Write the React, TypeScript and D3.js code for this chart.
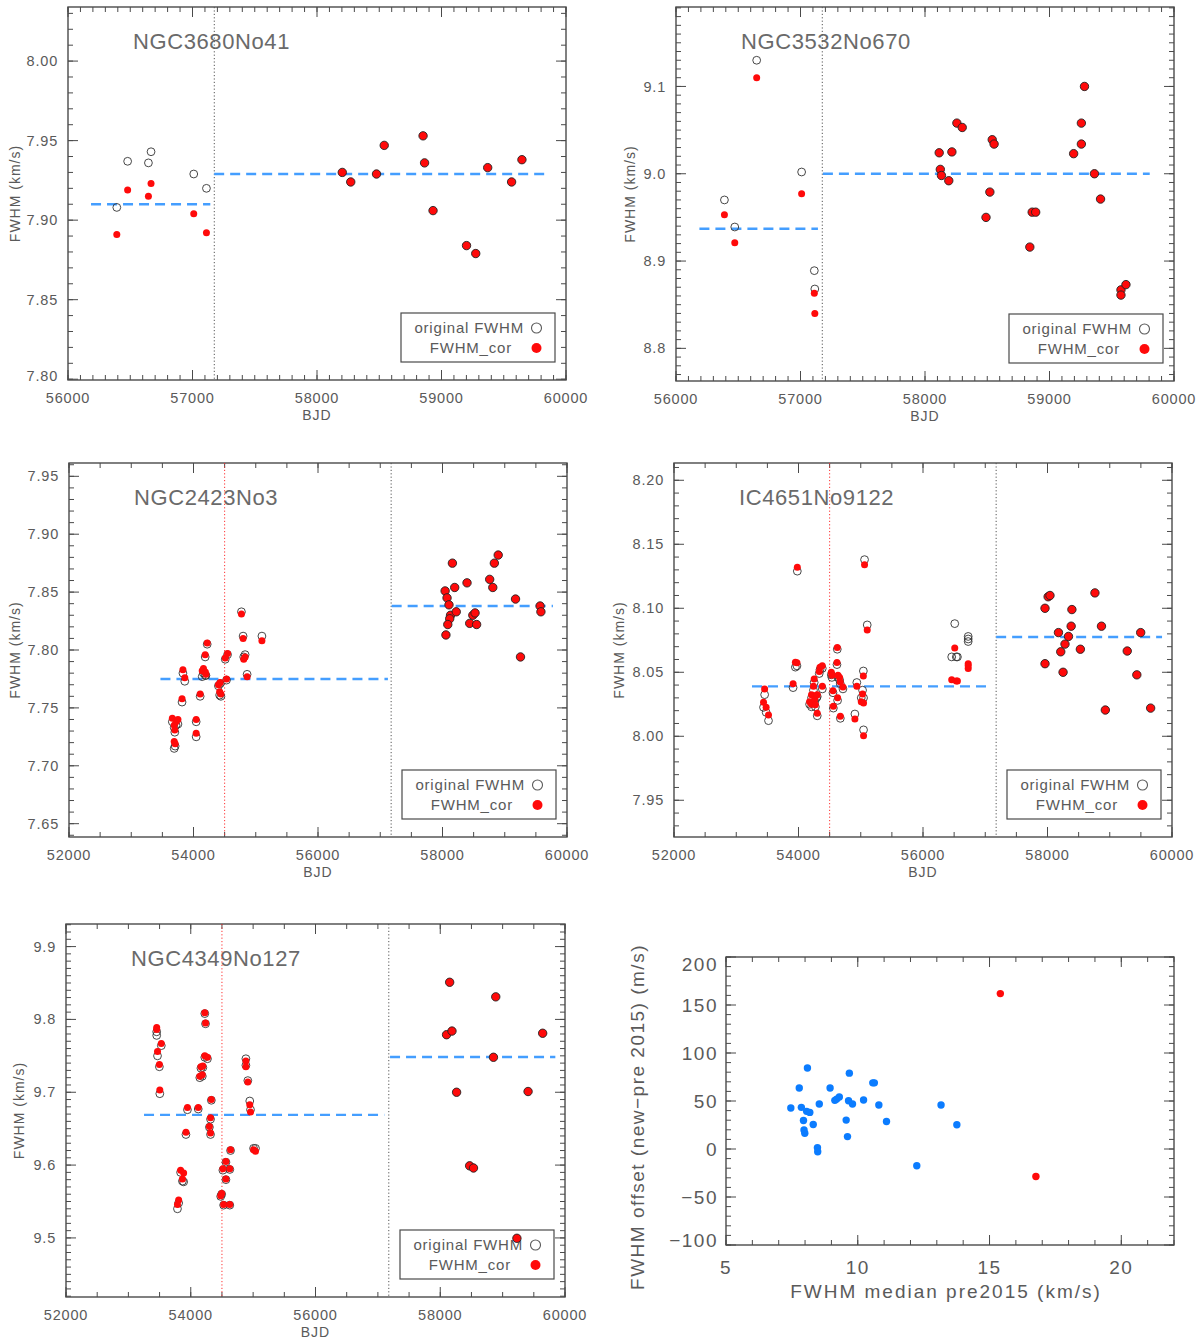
import * as d3 from "d3";

// ---------- data ----------

const SPLIT_BJD = 57175;
const RED_LINE_BJD = 54500;

// NGC3680No41
const p1PreBjd = [56392, 56479, 56646, 56667, 57010, 57112];
const p1PreOrig = [7.908, 7.937, 7.936, 7.943, 7.929, 7.92];
const p1PreCor = [7.891, 7.919, 7.915, 7.923, 7.904, 7.892];
const p1PostBjd = [58203, 58271, 58478, 58540, 58852, 58864, 58932, 59201, 59275, 59371, 59563, 59646];
const p1PostVal = [7.93, 7.924, 7.929, 7.947, 7.953, 7.936, 7.906, 7.884, 7.879, 7.933, 7.924, 7.938];
const p1Levels = [
  [56185, 57143, 7.91],
  [57174, 59847, 7.929],
];

// NGC3532No670
const p2PreBjd = [56389, 56472, 56648, 57009, 57111, 57115];
const p2PreOrig = [8.97, 8.939, 9.13, 9.002, 8.889, 8.868];
const p2PreCor = [8.953, 8.921, 9.11, 8.977, 8.863, 8.84];
const p2PostBjd = [
  58114, 58123, 58132, 58191, 58216, 58256, 58299, 58490, 58521, 58540, 58555, 58842, 58861, 58889,
  59194, 59256, 59256, 59281, 59361, 59410, 59574, 59574, 59614,
];
const p2PostVal = [
  9.024, 9.005, 8.998, 8.992, 9.025, 9.058, 9.053, 8.95, 8.979, 9.039, 9.034, 8.916, 8.956, 8.956,
  9.023, 9.058, 9.034, 9.1, 9.0, 8.971, 8.867, 8.861, 8.873,
];
const p2Levels = [
  [56188, 57140, 8.937],
  [57180, 59805, 9.0],
];

// NGC2423No3
const p3PreBjd = [
  53660, 53690, 53700, 53720, 53750, 53690, 53705, 53830, 53860, 53816, 54043, 54043, 54107, 54140,
  54160, 54190, 54200, 54188, 54220, 54400, 54430, 54440, 54420, 54530, 54510, 54547, 54770, 54797,
  54807, 54829, 54861, 55099,
];
const p3PreOrig = [
  7.738, 7.733, 7.729, 7.735, 7.736, 7.715, 7.717, 7.78, 7.773, 7.755, 7.738, 7.725, 7.76, 7.777,
  7.78, 7.778, 7.778, 7.794, 7.805, 7.769, 7.771, 7.76, 7.761, 7.774, 7.792, 7.796, 7.833, 7.812,
  7.794, 7.796, 7.779, 7.812,
];
const p3PreCor = [
  7.741, 7.735, 7.731, 7.738, 7.74, 7.721, 7.719, 7.783, 7.776, 7.758, 7.74, 7.728, 7.762, 7.782,
  7.784, 7.781, 7.779, 7.796, 7.806, 7.77, 7.772, 7.762, 7.764, 7.775, 7.793, 7.797, 7.831, 7.81,
  7.792, 7.794, 7.777, 7.808,
];
const p3PostBjd = [
  58042, 58073, 58104, 58129, 58116, 58085, 58055, 58159, 58196, 58221, 58394, 58437, 58487, 58523,
  58548, 58758, 58808, 58833, 58895, 59173, 59253, 59568, 59581,
];
const p3PostVal = [
  7.851, 7.845, 7.839, 7.83, 7.827, 7.822, 7.813, 7.875, 7.854, 7.833, 7.858, 7.823, 7.83, 7.832,
  7.822, 7.861, 7.854, 7.875, 7.882, 7.844, 7.794, 7.838, 7.833,
];
const p3Levels = [
  [53469, 57123, 7.775],
  [57183, 59774, 7.838],
];

// IC4651No9122
const p4PreBjd = [
  53456, 53438, 53480, 53518, 53913, 53950, 53975, 53981, 54178, 54209, 54209, 54240, 54252, 54260,
  54271, 54290, 54301, 54301, 54333, 54345, 54382, 54383, 54527, 54537, 54554, 54560, 54623, 54618,
  54628, 54634, 54660, 54671, 54672, 54714, 54906, 54937, 55008, 55029, 55045, 55042, 55045, 55061,
  55104, 56461, 56510, 56535, 56553, 56726, 56726, 56726,
];
const p4PreOrig = [
  8.0325, 8.0226, 8.0187, 8.0122, 8.038, 8.054, 8.055, 8.129, 8.025, 8.023, 8.03, 8.036, 8.042, 8.027,
  8.023, 8.03, 8.016, 8.031, 8.049, 8.052, 8.053, 8.037, 8.048, 8.046, 8.034, 8.022, 8.068, 8.056,
  8.028, 8.046, 8.044, 8.041, 8.014, 8.037, 8.0174, 8.042, 8.03, 8.036, 8.03, 8.051, 8.005, 8.138,
  8.087, 8.062, 8.088, 8.062, 8.062, 8.078, 8.076, 8.074,
];
const p4PreCor = [
  8.037, 8.0265, 8.0226, 8.0166, 8.041, 8.0578, 8.0575, 8.132, 8.027, 8.025, 8.0325, 8.039, 8.0447,
  8.029, 8.0247, 8.032, 8.018, 8.0325, 8.0507, 8.054, 8.055, 8.039, 8.05, 8.0476, 8.0356, 8.0234,
  8.0694, 8.0577, 8.03, 8.0476, 8.046, 8.0424, 8.0156, 8.0385, 8.0135, 8.039, 8.027, 8.033, 8.026,
  8.047, 8.0005, 8.134, 8.083, 8.0442, 8.069, 8.0432, 8.0432, 8.0567, 8.053, 8.055,
];
const p4PostBjd = [
  57960, 57960, 58010, 58040, 58176, 58213, 58250, 58281, 58337, 58380, 58392, 58528, 58762, 58867,
  58929, 59281, 59435, 59497, 59657,
];
const p4PostVal = [
  8.1, 8.0567, 8.109, 8.11, 8.081, 8.066, 8.05, 8.072, 8.078, 8.086, 8.099, 8.068, 8.112, 8.086,
  8.0205, 8.0666, 8.048, 8.081, 8.022,
];
const p4Levels = [
  [53253, 57108, 8.039],
  [57175, 59840, 8.0776],
];

// NGC4349No127
const p5PreBjd = [
  53454, 53454, 53467, 53528, 53497, 53504, 53837, 53886, 53867, 53806, 53787, 53947, 53923, 54120,
  54163, 54194, 54145, 54185, 54225, 54237, 54225, 54268, 54330, 54317, 54299, 54317, 54515, 54564,
  54564, 54626, 54638, 54496, 54480, 54527, 54626, 54884, 54884, 54915, 54946, 54958, 55007, 55038,
];
const p5PreOrig = [
  9.778, 9.783, 9.75, 9.764, 9.735, 9.698, 9.59, 9.577, 9.578, 9.548, 9.54, 9.676, 9.642, 9.677,
  9.733, 9.734, 9.72, 9.722, 9.808, 9.794, 9.748, 9.746, 9.689, 9.663, 9.652, 9.642, 9.593, 9.604,
  9.58, 9.594, 9.62, 9.56, 9.557, 9.545, 9.545, 9.746, 9.737, 9.716, 9.688, 9.676, 9.623, 9.623,
];
const p5PreCor = [
  9.789, 9.786, 9.756, 9.767, 9.738, 9.703, 9.593, 9.589, 9.581, 9.552, 9.546, 9.679, 9.645, 9.679,
  9.735, 9.736, 9.722, 9.724, 9.809, 9.795, 9.75, 9.748, 9.69, 9.665, 9.653, 9.644, 9.595, 9.605,
  9.581, 9.595, 9.621, 9.561, 9.558, 9.546, 9.546, 9.743, 9.735, 9.714, 9.683, 9.673, 9.621, 9.619,
];
const p5PostBjd = [58151, 58101, 58188, 58262, 58471, 58533, 58853, 58890, 59229, 59408, 59642];
const p5PostVal = [9.851, 9.779, 9.784, 9.7, 9.599, 9.596, 9.748, 9.831, 9.4995, 9.701, 9.781];
const p5Levels = [
  [53251, 57103, 9.669],
  [57195, 59845, 9.7485],
];

// offset vs median (bottom right)
const offMedianBlue = [
  7.46, 7.78, 7.86, 7.94, 7.96, 7.99, 8.09, 8.06, 8.18, 8.31, 8.47, 8.48, 8.54, 8.95, 9.13, 9.2, 9.3,
  9.56, 9.61, 9.65, 9.68, 9.8, 10.22, 10.57, 10.63, 10.8, 11.09, 12.24, 13.16, 13.76,
];
const offValueBlue = [
  42.7, 63.6, 43.4, 29.7, 19.9, 16.4, 84.3, 39.2, 38.1, 25.5, 1.4, -2.8, 46.9, 63.6, 50.7, 52.0, 54.2,
  30.1, 12.9, 50.3, 79.0, 46.9, 51.0, 68.9, 68.9, 45.8, 28.7, -17.5, 45.8, 25.2,
];
const offMedianRed = [15.41, 16.76];
const offValueRed = [161.9, -28.7];

// tick labels
const bjdTicksNarrow = [56000, 57000, 58000, 59000, 60000];
const bjdTicksWide = [52000, 54000, 56000, 58000, 60000];
const p1YTicks = [7.8, 7.85, 7.9, 7.95, 8.0];
const p2YTicks = [8.8, 8.9, 9.0, 9.1];
const p3YTicks = [7.65, 7.7, 7.75, 7.8, 7.85, 7.9, 7.95];
const p4YTicks = [7.95, 8.0, 8.05, 8.1, 8.15, 8.2];
const p5YTicks = [9.5, 9.6, 9.7, 9.8, 9.9];
const offXTicks = [5, 10, 15, 20];
const offYTicks = [-100, -50, 0, 50, 100, 150, 200];

// ---------- styling ----------

const FONT = "'Liberation Sans', Arial, Helvetica, sans-serif";
const INK = "#4a4a4a";
const TEXT = "#5a5a5a";
const RED = "#ff0a0a";
const LEVEL_BLUE = "#449eff";
const DOT_BLUE = "#0b7cff";

interface PanelSpec {
  title: string;
  left: number;
  top: number;
  width: number;
  height: number;
  xDomain: [number, number];
  yDomain: [number, number];
  xTicks: number[];
  xMinor: number;
  yTicks: number[];
  yMinor: number;
  yDigits: number;
  yTitleDx: number;
  preBjd: number[];
  preOrig: number[];
  preCor: number[];
  postBjd: number[];
  postVal: number[];
  levels: number[][];
  redLine: boolean;
}

const panels: PanelSpec[] = [
  {
    title: "NGC3680No41", left: 68, top: 7, width: 498, height: 373,
    xDomain: [56000, 60000], yDomain: [7.7995, 8.034], xTicks: bjdTicksNarrow, xMinor: 100,
    yTicks: p1YTicks, yMinor: 0.01, yDigits: 2, yTitleDx: 53,
    preBjd: p1PreBjd, preOrig: p1PreOrig, preCor: p1PreCor, postBjd: p1PostBjd, postVal: p1PostVal,
    levels: p1Levels, redLine: false,
  },
  {
    title: "NGC3532No670", left: 676, top: 7, width: 498, height: 374,
    xDomain: [56000, 60000], yDomain: [8.7626, 9.191], xTicks: bjdTicksNarrow, xMinor: 100,
    yTicks: p2YTicks, yMinor: 0.01, yDigits: 1, yTitleDx: 46,
    preBjd: p2PreBjd, preOrig: p2PreOrig, preCor: p2PreCor, postBjd: p2PostBjd, postVal: p2PostVal,
    levels: p2Levels, redLine: false,
  },
  {
    title: "NGC2423No3", left: 69, top: 463, width: 498, height: 374,
    xDomain: [52000, 60000], yDomain: [7.6385, 7.9615], xTicks: bjdTicksWide, xMinor: 500,
    yTicks: p3YTicks, yMinor: 0.01, yDigits: 2, yTitleDx: 54,
    preBjd: p3PreBjd, preOrig: p3PreOrig, preCor: p3PreCor, postBjd: p3PostBjd, postVal: p3PostVal,
    levels: p3Levels, redLine: true,
  },
  {
    title: "IC4651No9122", left: 674, top: 463, width: 498, height: 374,
    xDomain: [52000, 60000], yDomain: [7.9213, 8.2135], xTicks: bjdTicksWide, xMinor: 500,
    yTicks: p4YTicks, yMinor: 0.01, yDigits: 2, yTitleDx: 55,
    preBjd: p4PreBjd, preOrig: p4PreOrig, preCor: p4PreCor, postBjd: p4PostBjd, postVal: p4PostVal,
    levels: p4Levels, redLine: true,
  },
  {
    title: "NGC4349No127", left: 66, top: 924, width: 499, height: 373,
    xDomain: [52000, 60000], yDomain: [9.4189, 9.931], xTicks: bjdTicksWide, xMinor: 500,
    yTicks: p5YTicks, yMinor: 0.01, yDigits: 1, yTitleDx: 47,
    preBjd: p5PreBjd, preOrig: p5PreOrig, preCor: p5PreCor, postBjd: p5PostBjd, postVal: p5PostVal,
    levels: p5Levels, redLine: true,
  },
];

function minorValues(domain: [number, number], step: number) {
  const lo = Math.min(domain[0], domain[1]);
  const hi = Math.max(domain[0], domain[1]);
  const out: number[] = [];
  for (let i = Math.ceil(lo / step - 1e-6); i * step <= hi + 1e-9; i++) out.push(i * step);
  return out;
}

// ticks on all four sides, pointing inward (IDL style)
function Frame({
  x, y, xMinor, yMinor, xTicks, yTicks, major, minor,
}: {
  x: d3.ScaleLinear<number, number>;
  y: d3.ScaleLinear<number, number>;
  xMinor: number[];
  yMinor: number[];
  xTicks: number[];
  yTicks: number[];
  major: number;
  minor: number;
}) {
  const [x0, x1] = x.range();
  const [y0, y1] = y.range(); // y0 bottom, y1 top
  const segs: string[] = [];
  xMinor.forEach((v) => {
    const px = x(v);
    segs.push(`M${px},${y0}v${-minor}M${px},${y1}v${minor}`);
  });
  xTicks.forEach((v) => {
    const px = x(v);
    segs.push(`M${px},${y0}v${-major}M${px},${y1}v${major}`);
  });
  yMinor.forEach((v) => {
    const py = y(v);
    segs.push(`M${x0},${py}h${minor}M${x1},${py}h${-minor}`);
  });
  yTicks.forEach((v) => {
    const py = y(v);
    segs.push(`M${x0},${py}h${major}M${x1},${py}h${-major}`);
  });
  return (
    <g>
      <path d={segs.join("")} stroke={INK} strokeWidth={1} fill="none" />
      <rect x={x0} y={y1} width={x1 - x0} height={y0 - y1} fill="none" stroke={INK} strokeWidth={1.4} />
    </g>
  );
}

function FwhmPanel({ p }: { p: PanelSpec }) {
  const x = d3.scaleLinear().domain(p.xDomain).range([p.left, p.left + p.width]);
  const y = d3.scaleLinear().domain(p.yDomain).range([p.top + p.height, p.top]);
  const bottom = p.top + p.height;
  const right = p.left + p.width;
  const fmt = d3.format(`.${p.yDigits}f`);

  const legW = 154;
  const legH = 49;
  const legX = right - 11 - legW;
  const legY = bottom - 18 - legH;

  return (
    <g>
      <Frame
        x={x}
        y={y}
        xMinor={minorValues(p.xDomain, p.xMinor)}
        yMinor={minorValues(p.yDomain, p.yMinor)}
        xTicks={p.xTicks}
        yTicks={p.yTicks}
        major={10}
        minor={5}
      />

      {p.xTicks.map((t) => (
        <text key={`xt${t}`} x={x(t)} y={bottom + 23} textAnchor="middle" fontSize={14.5} letterSpacing={0.8} fill={TEXT}>
          {t}
        </text>
      ))}
      {p.yTicks.map((t) => (
        <text
          key={`yt${t}`}
          x={p.left - 10}
          y={Math.min(Math.max(y(t), p.top + 6), bottom - 4)}
          dy="0.35em"
          textAnchor="end"
          fontSize={14.5}
          letterSpacing={0.8}
          fill={TEXT}
        >
          {fmt(t)}
        </text>
      ))}
      <text x={p.left + p.width / 2} y={bottom + 40} textAnchor="middle" fontSize={14} letterSpacing={1} fill={TEXT}>
        BJD
      </text>
      <text
        transform={`translate(${p.left - p.yTitleDx},${p.top + p.height / 2}) rotate(-90)`}
        dy="0.35em"
        textAnchor="middle"
        fontSize={14}
        letterSpacing={1}
        fill={TEXT}
      >
        FWHM (km/s)
      </text>

      <text x={p.left + 65} y={p.top + 42} fontSize={22} letterSpacing={0.6} fill="#6a6a6a">
        {p.title}
      </text>

      {/* 2015 upgrade + red marker */}
      <line x1={x(SPLIT_BJD)} x2={x(SPLIT_BJD)} y1={p.top} y2={bottom} stroke="#555" strokeWidth={1} strokeDasharray="1.2,2.2" />
      {p.redLine && (
        <line x1={x(RED_LINE_BJD)} x2={x(RED_LINE_BJD)} y1={p.top} y2={bottom} stroke="#ff3030" strokeWidth={1} strokeDasharray="1.2,2.2" />
      )}

      {p.levels.map(([a, b, v], i) => (
        <line key={`lv${i}`} x1={x(a)} x2={x(b)} y1={y(v)} y2={y(v)} stroke={LEVEL_BLUE} strokeWidth={2.4} strokeDasharray="10,6" />
      ))}

      {/* legend */}
      <rect x={legX} y={legY} width={legW} height={legH} fill="none" stroke={INK} strokeWidth={1.2} />
      <text x={legX + legW - 31} y={legY + 15} dy="0.35em" textAnchor="end" fontSize={15} letterSpacing={0.8} fill={TEXT}>
        original FWHM
      </text>
      <circle cx={legX + legW - 18.5} cy={legY + 15} r={5} fill="none" stroke={TEXT} strokeWidth={1.1} />
      <text x={legX + legW - 43} y={legY + 35} dy="0.35em" textAnchor="end" fontSize={15} letterSpacing={0.8} fill={TEXT}>
        FWHM_cor
      </text>
      <circle cx={legX + legW - 18.5} cy={legY + 35} r={5} fill={RED} />

      {/* pre-2015: original (open) then corrected (red) */}
      {p.preBjd.map((b, i) => (
        <circle key={`po${i}`} cx={x(b)} cy={y(p.preOrig[i])} r={3.9} fill="none" stroke="#333" strokeWidth={0.9} />
      ))}
      {p.preBjd.map((b, i) => (
        <circle key={`pc${i}`} cx={x(b)} cy={y(p.preCor[i])} r={3.5} fill={RED} />
      ))}
      {/* post-2015: no correction, symbols coincide */}
      {p.postBjd.map((b, i) => (
        <circle key={`q${i}`} cx={x(b)} cy={y(p.postVal[i])} r={4.2} fill={RED} stroke="#222" strokeWidth={0.9} />
      ))}
    </g>
  );
}

function OffsetPanel() {
  const left = 726;
  const top = 957;
  const width = 448;
  const height = 288;
  const bottom = top + height;
  const x = d3.scaleLinear().domain([5, 22]).range([left, left + width]);
  const y = d3.scaleLinear().domain([-100, 200]).range([bottom, top]);
  const fmt = (v: number) => (v < 0 ? `\u2212${Math.abs(v)}` : `${v}`);

  return (
    <g>
      <Frame
        x={x}
        y={y}
        xMinor={minorValues([5, 22], 1)}
        yMinor={minorValues([-100, 200], 10)}
        xTicks={offXTicks}
        yTicks={offYTicks}
        major={10}
        minor={5}
      />
      {offXTicks.map((t) => (
        <text key={`ox${t}`} x={x(t)} y={bottom + 29} textAnchor="middle" fontSize={19} letterSpacing={1.5} fill={TEXT}>
          {t}
        </text>
      ))}
      {offYTicks.map((t) => (
        <text
          key={`oy${t}`}
          x={left - 8}
          y={Math.min(Math.max(y(t), top + 7), bottom - 5)}
          dy="0.35em"
          textAnchor="end"
          fontSize={19}
          letterSpacing={1.5}
          fill={TEXT}
        >
          {fmt(t)}
        </text>
      ))}
      <text x={left + width / 2 - 4} y={bottom + 53} textAnchor="middle" fontSize={19} letterSpacing={2} fill={TEXT}>
        FWHM median pre2015 (km/s)
      </text>
      <text
        transform={`translate(${left - 89},${top + height / 2 + 16}) rotate(-90)`}
        dy="0.35em"
        textAnchor="middle"
        fontSize={19}
        letterSpacing={1.5}
        fill={TEXT}
      >
        FWHM offset (new{"\u2212"}pre 2015) (m/s)
      </text>
      {offMedianBlue.map((m, i) => (
        <circle key={`b${i}`} cx={x(m)} cy={y(offValueBlue[i])} r={3.7} fill={DOT_BLUE} />
      ))}
      {offMedianRed.map((m, i) => (
        <circle key={`r${i}`} cx={x(m)} cy={y(offValueRed[i])} r={3.7} fill={RED} />
      ))}
    </g>
  );
}

export default function App() {
  return (
    <div style={{ width: 1200, height: 1344, background: "#fff" }}>
      <style>{`body{margin:0}`}</style>
      <svg width={1200} height={1344} viewBox="0 0 1200 1344" style={{ display: "block", fontFamily: FONT }}>
        <rect width={1200} height={1344} fill="#fff" />
        {panels.map((p) => (
          <FwhmPanel key={p.title} p={p} />
        ))}
        <OffsetPanel />
      </svg>
    </div>
  );
}
